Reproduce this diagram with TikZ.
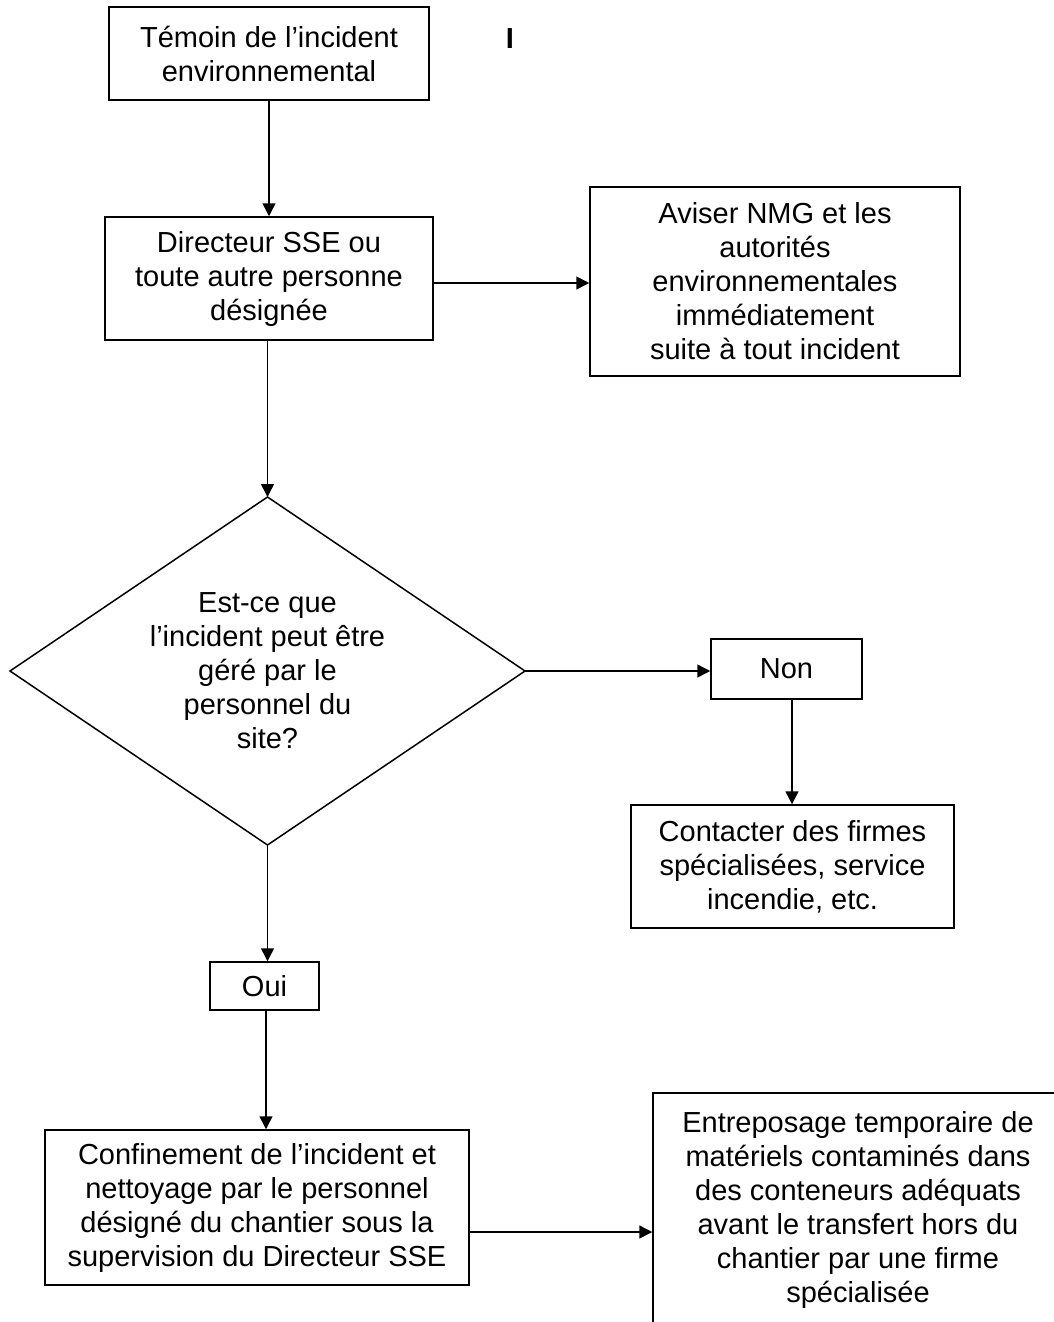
\documentclass[tikz,border=0pt]{standalone}
\usepackage{fontspec}
\setmainfont{Liberation Sans}
\usetikzlibrary{arrows.meta}
\begin{document}
\begin{tikzpicture}[x=1pt,y=-1pt,>={Triangle[length=13pt,width=13pt]},
  every node/.style={font=\fontsize{29}{34}\selectfont},
  box/.style={draw,line width=1.5pt,align=center,inner sep=0pt},
  link/.style={->,line width=1.5pt}]
\useasboundingbox (0,0) rectangle (1053,1322);

\node[box,minimum width=320pt,minimum height=93pt] (temoin) at (269,53.5)
  {Témoin de l’incident\\environnemental};
\node[font=\fontsize{29}{34}\selectfont\bfseries] (curseur) at (510,39) {I};
\node[box,minimum width=328pt,minimum height=123pt] (directeur) at (269,278.5)
  {Directeur SSE ou\\toute autre personne\\désignée};
\node[box,minimum width=370pt,minimum height=189pt] (aviser) at (775,281.5)
  {Aviser NMG et les\\autorités\\environnementales\\immédiatement\\suite à tout incident};

\node[align=center,inner sep=0pt] (question) at (267.5,671)
  {Est-ce que\\l’incident peut être\\géré par le\\personnel du\\site?};
\coordinate (qhaut) at (267.5,497);
\coordinate (qdroite) at (525,671);
\coordinate (qbas) at (267.5,845);
\coordinate (qgauche) at (10,671);
\draw[line width=1.5pt,line join=miter] (qhaut) -- (qdroite) -- (qbas) -- (qgauche) -- cycle;

\node[box,minimum width=151pt,minimum height=60pt] (non) at (786.5,669) {Non};
\node[box,minimum width=323pt,minimum height=123pt] (contacter) at (792.5,866.5)
  {Contacter des firmes\\spécialisées, service\\incendie, etc.};
\node[box,minimum width=109pt,minimum height=48pt] (oui) at (264.5,986) {Oui};
\node[box,minimum width=424pt,minimum height=155pt] (confinement) at (257,1207.5)
  {Confinement de l’incident et\\nettoyage par le personnel\\désigné du chantier sous la\\supervision du Directeur SSE};
\node[box,minimum width=410pt,minimum height=234pt] (entreposage) at (858,1210)
  {Entreposage temporaire de\\matériels contaminés dans\\des conteneurs adéquats\\avant le transfert hors du\\chantier par une firme\\spécialisée};

\draw[link] (temoin) -- (directeur);
\draw[link] (directeur.east |- 0,283) -- (aviser.west |- 0,283);
\draw[link] (directeur.south -| qhaut) -- (qhaut);
\draw[link] (qdroite) -- (non.west |- qdroite);
\draw[link] (non.south -| 792,0) -- (contacter.north -| 792,0);
\draw[link] (qbas) -- (oui.north -| qbas);
\draw[link] (oui.south -| 266,0) -- (confinement.north -| 266,0);
\draw[link] (confinement.east |- 0,1232) -- (entreposage.west |- 0,1232);
\end{tikzpicture}
\end{document}
